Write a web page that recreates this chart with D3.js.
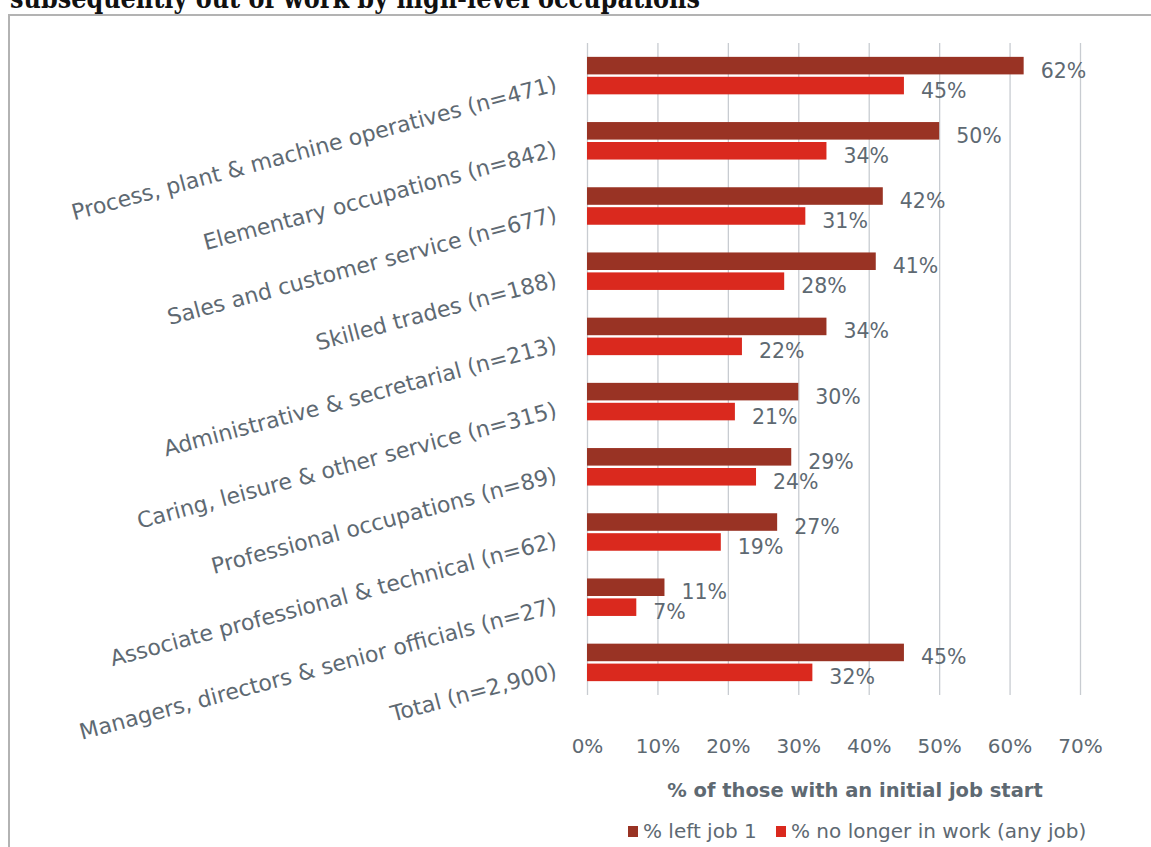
<!DOCTYPE html>
<html>
<head>
<meta charset="utf-8">
<script src="https://cdn.jsdelivr.net/npm/d3@7"></script>
<style>
  html, body { margin: 0; padding: 0; background: #fff; overflow: hidden; }
  svg text { font-family: "DejaVu Sans", sans-serif; }
</style>
</head>
<body>
<svg id="chart" width="1151" height="847"></svg>
<script>
// Occupation groups, top to bottom
const categories = [
  "Process, plant & machine operatives (n=471)",
  "Elementary occupations (n=842)",
  "Sales and customer service (n=677)",
  "Skilled trades (n=188)",
  "Administrative & secretarial (n=213)",
  "Caring, leisure & other service (n=315)",
  "Professional occupations (n=89)",
  "Associate professional & technical (n=62)",
  "Managers, directors & senior officials (n=27)",
  "Total (n=2,900)"
];
// Percentages of those with an initial job start
const leftJob1 = [62, 50, 42, 41, 34, 30, 29, 27, 11, 45];
const noLongerInWork = [45, 34, 31, 28, 22, 21, 24, 19, 7, 32];
const seriesNames = ["% left job 1", "% no longer in work (any job)"];
const xTicks = [0, 10, 20, 30, 40, 50, 60, 70];
const axisTitle = "% of those with an initial job start";
const chartTitle = "subsequently out of work by high-level occupations";

const seriesValues = [leftJob1, noLongerInWork];
const seriesColors = ["#993324", "#da291e"];
const textColor = "#5e6972";
const gridColor = "#c8ccd1";

const svg = d3.select("#chart");

// Heading text (sits above the framed chart, partly cut at the page top)
svg.append("text")
  .attr("x", 10).attr("y", 8)
  .attr("textLength", 690).attr("lengthAdjust", "spacingAndGlyphs")
  .style("font-family", '"DejaVu Serif", serif')
  .style("font-weight", "bold")
  .style("font-size", "27px")
  .attr("fill", "#111")
  .text(chartTitle);

// Chart frame
svg.append("rect")
  .attr("x", 9).attr("y", 15)
  .attr("width", 1300).attr("height", 1000)
  .attr("fill", "none")
  .attr("stroke", "#b3b3b3")
  .attr("stroke-width", 2);

const plotTop = 43, plotBottom = 695;

const x = d3.scaleLinear().domain([0, 70]).range([587, 1080]);
const y = d3.scaleBand().domain(categories).range([plotTop, plotBottom])
  .paddingInner(0.425).paddingOuter(0.2125);
const ySub = d3.scaleBand().domain([0, 1]).range([0, y.bandwidth()]).paddingInner(0.12);

// Value axis with vertical gridlines
const xAxis = svg.append("g")
  .attr("transform", `translate(0,${plotBottom})`)
  .call(d3.axisBottom(x).tickValues(xTicks)
    .tickSize(-(plotBottom - plotTop))
    .tickFormat(d => d + "%"));
xAxis.select(".domain").remove();
xAxis.selectAll(".tick line").attr("stroke", gridColor).attr("stroke-width", 1.3);
xAxis.selectAll(".tick text")
  .attr("y", 58).attr("dy", 0)
  .attr("fill", textColor)
  .style("font-size", "20px");

// Category axis with slanted labels
const yAxis = svg.append("g")
  .attr("transform", `translate(${x(0)},0)`)
  .call(d3.axisLeft(y).tickSize(0));
yAxis.select(".domain").remove();
yAxis.selectAll(".tick text")
  .attr("x", -29).attr("y", 15).attr("dy", 0)
  .attr("text-anchor", "end")
  .attr("transform", "rotate(-15,-29,15)")
  .attr("fill", textColor)
  .style("font-size", "22px");

// Bars
const rows = categories.map((c, i) => ({ cat: c, vals: seriesValues.map(s => s[i]) }));
const groups = svg.append("g").selectAll("g")
  .data(rows).join("g")
  .attr("transform", d => `translate(0,${y(d.cat)})`);

groups.selectAll("rect")
  .data(d => d.vals.map((v, k) => ({ v, k })))
  .join("rect")
  .attr("x", x(0))
  .attr("y", d => ySub(d.k))
  .attr("width", d => x(d.v) - x(0))
  .attr("height", ySub.bandwidth())
  .attr("fill", d => seriesColors[d.k]);

groups.selectAll("text")
  .data(d => d.vals.map((v, k) => ({ v, k })))
  .join("text")
  .attr("x", d => x(d.v) + 17)
  .attr("y", d => ySub(d.k) + ySub.bandwidth() / 2 + 12)
  .attr("fill", textColor)
  .style("font-size", "20.5px")
  .text(d => d.v + "%");

// Axis title
svg.append("text")
  .attr("x", 855).attr("y", 797)
  .attr("text-anchor", "middle")
  .attr("fill", textColor)
  .style("font-size", "19.5px")
  .style("font-weight", "bold")
  .text(axisTitle);

// Legend
const legendX = [628, 776];
const legend = svg.append("g").selectAll("g")
  .data(seriesNames).join("g")
  .attr("transform", (d, i) => `translate(${legendX[i]},826)`);
legend.append("rect")
  .attr("width", 10).attr("height", 11)
  .attr("fill", (d, i) => seriesColors[i]);
legend.append("text")
  .attr("x", 15).attr("y", 12)
  .attr("fill", textColor)
  .style("font-size", "20px")
  .text(d => d);
</script>
</body>
</html>
